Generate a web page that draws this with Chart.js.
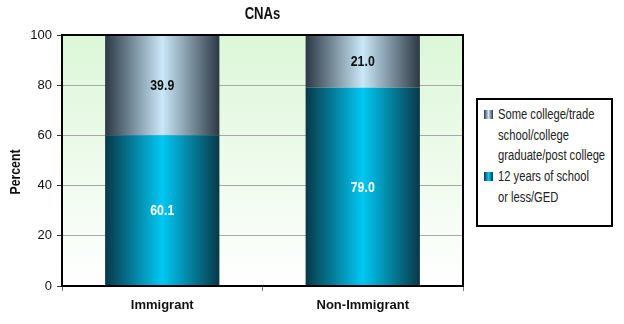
<!DOCTYPE html>
<html><head><meta charset="utf-8">
<script src="https://cdn.jsdelivr.net/npm/chart.js@4/dist/chart.umd.min.js"></script>
<style>
html,body{margin:0;padding:0;background:#fff;}
#wrap{position:relative;width:624px;height:324px;}
#legend{position:absolute;left:476px;top:98px;width:133px;height:121px;border:2px solid #000;background:#fff;
 font-family:'Liberation Sans',Arial,sans-serif;font-size:14px;line-height:20.7px;color:#222;}
.item{position:relative;padding-left:20px;white-space:nowrap;}
.txt{display:inline-block;transform:scaleX(0.8);transform-origin:0 0;}
.sw{position:absolute;left:6px;top:6px;width:9px;height:9px;}
</style></head>
<body><div id="wrap"><canvas id="c" width="624" height="324"></canvas>
<div id="legend"></div></div>
<script>
const categories = ['Immigrant', 'Non-Immigrant'];
const seriesNames = ['12 years of school or less/GED', 'Some college/trade school/college graduate/post college'];
const legendLines = [['Some college/trade', 'school/college', 'graduate/post college'], ['12 years of school', 'or less/GED']];
const lessOrGED = [60.1, 79.0];
const someCollege = [39.9, 21.0];
const yTicks = [0, 20, 40, 60, 80, 100];
const chartTitle = 'CNAs';
const yTitle = 'Percent';

const FONT = "'Liberation Sans',Arial,sans-serif";
const BAR_FRAC = 0.57;

function barGradient(chart, idx, dark, light){
  const xs = chart.scales.x;
  if(!xs || !chart.chartArea) return light;
  const cx = xs.getPixelForValue(idx);
  const w = (xs.width / categories.length) * BAR_FRAC;
  const g = chart.ctx.createLinearGradient(cx - w/2, 0, cx + w/2, 0);
  g.addColorStop(0, dark);
  g.addColorStop(0.5, light);
  g.addColorStop(1, dark);
  return g;
}

function condensedText(ctx, text, x, y, font, color, sx, rotate){
  ctx.save();
  ctx.translate(x, y);
  if(rotate) ctx.rotate(rotate);
  ctx.scale(sx, 1);
  ctx.font = font; ctx.fillStyle = color;
  ctx.textAlign='center'; ctx.textBaseline='middle';
  ctx.fillText(text, 0, 0);
  ctx.restore();
}

const bgPlugin = {
  id:'bg',
  beforeDraw(chart){
    const {ctx, chartArea:a} = chart;
    const g = ctx.createLinearGradient(0, a.top, 0, a.bottom);
    g.addColorStop(0, '#dcf7d8');
    g.addColorStop(1, '#ffffff');
    ctx.save(); ctx.fillStyle = g; ctx.fillRect(a.left, a.top, a.right-a.left, a.bottom-a.top); ctx.restore();
  },
  afterDraw(chart){
    const {ctx, chartArea:a} = chart;
    ctx.save(); ctx.strokeStyle='#000'; ctx.lineWidth=2;
    ctx.strokeRect(a.left, a.top, a.right-a.left, a.bottom-a.top); ctx.restore();
    condensedText(ctx, chartTitle, (a.left+a.right)/2, 15, 'bold 16px '+FONT, '#111', 0.82, 0);
    condensedText(ctx, yTitle, 16, 172, 'bold 15px '+FONT, '#111', 0.82, -Math.PI/2);
  }
};

const labelPlugin = {
  id:'vals',
  afterDatasetsDraw(chart){
    const ctx = chart.ctx;
    chart.data.datasets.forEach((ds, di)=>{
      chart.getDatasetMeta(di).data.forEach((el, i)=>{
        const p = el.getProps(['x','y','base'], true);
        condensedText(ctx, ds.data[i].toFixed(1), p.x, (p.y + p.base)/2 + 1, 'bold 15px '+FONT,
          di === 0 ? '#ffffff' : '#111111', 0.82, 0);
      });
    });
  }
};

const chart = new Chart(document.getElementById('c'), {
  type:'bar',
  data:{
    labels: categories,
    datasets:[
      {label: seriesNames[0], data: lessOrGED,
       backgroundColor: c => barGradient(c.chart, c.dataIndex, '#083848', '#00c8f4')},
      {label: seriesNames[1], data: someCollege,
       backgroundColor: c => barGradient(c.chart, c.dataIndex, '#2c3844', '#cae8f8')}
    ]
  },
  options:{
    responsive:false, animation:false,
    categoryPercentage: 1, barPercentage: BAR_FRAC,
    layout:{padding:{left:0, right:161, top:35, bottom:0}},
    plugins:{ legend:{display:false}, tooltip:{enabled:false}, title:{display:false} },
    scales:{
      x:{stacked:true,
         grid:{display:true, offset:true, drawOnChartArea:false, drawTicks:true, tickLength:5, color:'#777'},
         border:{display:false},
         ticks:{color:'#111', font:{family:FONT, size:13, weight:'bold'}, padding:7},
         afterFit(s){ s.height = 38; }
      },
      y:{stacked:true, min:0, max:100,
         afterBuildTicks(s){ s.ticks = yTicks.map(v=>({value:v})); },
         grid:{color:'#a8a8a8', lineWidth:1, drawTicks:true, tickLength:5, tickColor:'#333'},
         border:{display:false},
         ticks:{color:'#111', font:{family:FONT, size:13}, padding:5},
         afterFit(s){ s.width = 62; }
      }
    }
  },
  plugins:[bgPlugin, labelPlugin]
});

const leg = document.getElementById('legend');
const swatches = [
  'linear-gradient(to right,#2c3844 0%,#cae8f8 50%,#2c3844 100%)',
  'linear-gradient(to right,#083848 0%,#00c8f4 50%,#083848 100%)'
];
leg.style.paddingTop = '4px';
legendLines.forEach((lines, i)=>{
  const d = document.createElement('div'); d.className='item';
  d.innerHTML = '<span class="sw" style="background:'+swatches[i]+'"></span>' +
    lines.map(l=>'<span class="txt">'+l+'</span>').join('<br>');
  leg.appendChild(d);
});
</script></body></html>
